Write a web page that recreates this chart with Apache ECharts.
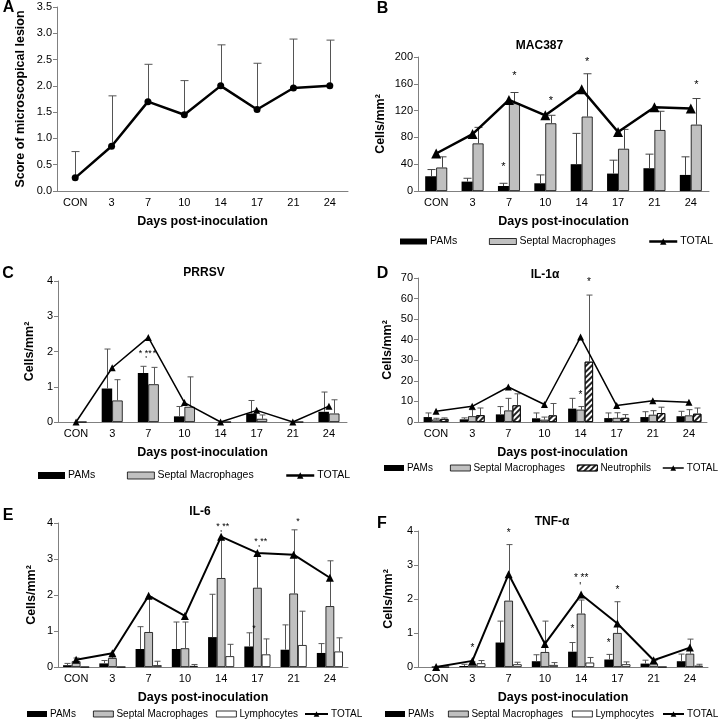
<!DOCTYPE html>
<html>
<head>
<meta charset="utf-8">
<script src="https://cdn.jsdelivr.net/npm/echarts/dist/echarts.min.js"></script>
<style>
  html, body { margin: 0; padding: 0; background: #fff; }
  #chart { width: 719px; height: 723px; }
</style>
</head>
<body>
<div id="chart"></div>
<script>
var FONT = '"Liberation Sans", Arial, sans-serif';
var days = ['CON', '3', '7', '10', '14', '17', '21', '24'];

// A - lesion score (mean, top of error bar)
var lesionScore = [0.25, 0.85, 1.7, 1.45, 2.0, 1.55, 1.96, 2.0];
var lesionTop = [0.75, 1.81, 2.41, 2.1, 2.78, 2.43, 2.89, 2.87];

// B - MAC387
var macPams = [22, 14, 7.5, 11.5, 40, 26, 34, 24];
var macPamsTop = [32, 19, 11.5, 24, 86, 46, 55, 51];
var macSeptal = [35, 71, 131, 101, 111, 63, 91, 99];
var macSeptalTop = [51, 95, 147, 113, 175, 92, 119, 138];
var macTotal = [56, 85, 136, 113, 152, 88, 125, 123];
var macStars = [[2, 36, 0, '*'], [2, 171, 1, '*'], [3, 134, 1, '*'], [4, 192, 1, '*'], [7, 158, 1, '*']];

// C - PRRSV
var prrsvPams = [0, 0.95, 1.39, 0.16, 0, 0.24, 0, 0.29];
var prrsvPamsTop = [0, 2.07, 1.58, 0.44, 0, 0.61, 0, 0.85];
var prrsvSeptal = [0, 0.61, 1.07, 0.43, 0, 0.09, 0, 0.24];
var prrsvSeptalTop = [0, 1.2, 1.55, 1.28, 0, 0.2, 0, 0.63];
var prrsvTotal = [0, 1.54, 2.4, 0.55, 0, 0.33, 0, 0.45];
var prrsvStars = [[2, 1.94, 0.2, '* **'], [2, 1.94, 1.1, '*'], [2, 1.78, 0.3, "'"]];

// D - IL-1 alpha
var il1Pams = [2.4, 1.3, 3.7, 1.8, 6.5, 1.9, 2.4, 2.8];
var il1PamsTop = [4.4, 2.0, 7.5, 4.4, 11.5, 4.4, 5.0, 5.2];
var il1Septal = [1.2, 2.8, 5.6, 1.1, 6.0, 2.0, 3.5, 3.2];
var il1SeptalTop = [1.8, 6.0, 11.5, 2.4, 7.5, 4.5, 5.5, 6.0];
var il1Neutro = [1.5, 3.3, 8.1, 3.2, 29.3, 2.0, 4.3, 4.0];
var il1NeutroTop = [2.0, 6.8, 13.7, 9.0, 61.7, 3.6, 7.2, 6.8];
var il1Total = [5.2, 7.6, 17, 8.5, 41.3, 8.0, 10.3, 9.6];
var il1Stars = [[4, 13, 1, '*'], [4, 68, 2, '*']];

// E - IL-6
var il6Pams = [0.05, 0.1, 0.5, 0.5, 0.83, 0.57, 0.48, 0.39];
var il6PamsTop = [0.1, 0.18, 1.12, 1.25, 2.02, 0.95, 1.17, 0.65];
var il6Septal = [0.16, 0.25, 0.97, 0.52, 2.47, 2.2, 2.04, 1.69];
var il6SeptalTop = [0.25, 0.28, 1.95, 1.25, 3.55, 3.1, 3.81, 2.95];
var il6Lymph = [0, 0, 0.05, 0.03, 0.3, 0.35, 0.61, 0.43];
var il6LymphTop = [0, 0, 0.16, 0.07, 0.63, 0.78, 1.55, 0.81];
var il6Total = [0.2, 0.38, 1.98, 1.42, 3.62, 3.17, 3.12, 2.48];
var il6Stars = [[4, 3.9, 1.2, '* **'], [4, 3.7, 1.0, "'"], [5, 3.49, 1.4, '* **'], [5, 3.29, 1.2, "'"], [6, 4.03, 1.5, '*'], [5, 1.08, 0.6, '*']];

// F - TNF alpha
var tnfPams = [0, 0.03, 0.72, 0.17, 0.45, 0.22, 0.1, 0.17];
var tnfPamsTop = [0, 0.08, 1.35, 0.36, 0.72, 0.37, 0.2, 0.38];
var tnfSeptal = [0, 0.06, 1.95, 0.44, 1.57, 1.0, 0.1, 0.39];
var tnfSeptalTop = [0, 0.15, 3.6, 1.35, 1.97, 1.92, 0.2, 0.82];
var tnfLymph = [0, 0.11, 0.08, 0.06, 0.13, 0.08, 0, 0.04];
var tnfLymphTop = [0, 0.19, 0.14, 0.13, 0.28, 0.15, 0, 0.08];
var tnfTotal = [0, 0.18, 2.73, 0.68, 2.13, 1.28, 0.2, 0.57];
var tnfStars = [[1, 0.54, 1, '*'], [2, 3.93, 1, '*'], [4, 2.6, 1, '* **'], [4, 2.34, 0.9, "'"], [4, 1.1, 0, '*'], [5, 2.26, 1, '*'], [5, 0.71, 0, '*']];

var chart = echarts.init(document.getElementById('chart'));

var hatch = {
  symbol: 'rect', symbolSize: 1, color: '#222',
  dashArrayX: [1, 0], dashArrayY: [1.5, 2], rotation: -Math.PI / 4
};

function catAxis(i) {
  return {
    gridIndex: i, type: 'category', data: days,
    name: 'Days post-inoculation', nameLocation: 'middle', nameGap: 24,
    nameTextStyle: { fontSize: 12.5, fontWeight: 'bold', color: '#000' },
    axisLine: { lineStyle: { color: '#808080', width: 1 } },
    axisTick: { length: 3, lineStyle: { color: '#808080' } },
    axisLabel: { fontSize: 11, color: '#000', margin: 6 },
    splitLine: { show: false }
  };
}

function valAxis(i, max, step, name, gap, fmt) {
  return {
    gridIndex: i, type: 'value', min: 0, max: max, interval: step,
    name: name, nameLocation: 'middle', nameGap: gap,
    nameTextStyle: { fontSize: 12.5, fontWeight: 'bold', color: '#000' },
    axisLine: { show: true, lineStyle: { color: '#808080', width: 1 } },
    axisTick: { show: true, length: 4, lineStyle: { color: '#808080' } },
    axisLabel: { fontSize: 11, color: '#000', margin: 5, formatter: fmt },
    splitLine: { show: false }
  };
}

function bars(grid, name, values, color, bw, extra) {
  var s = {
    type: 'bar', name: name, xAxisIndex: grid, yAxisIndex: grid, data: values,
    barWidth: bw, barGap: '0%', silent: true,
    itemStyle: { color: color, borderColor: '#000', borderWidth: color === '#000' ? 0 : 0.8 }
  };
  if (extra) s.itemStyle.decal = extra;
  return s;
}

function errBars(grid, means, tops, slot, nSlots, bw, cap, color) {
  var pts = [];
  means.forEach(function (m, i) { if (tops[i] > m) pts.push([i, m, tops[i]]); });
  return {
    type: 'custom', xAxisIndex: grid, yAxisIndex: grid, data: pts, silent: true, z: 3,
    renderItem: function (params, api) {
      var lo = api.coord([api.value(0), api.value(1)]);
      var hi = api.coord([api.value(0), api.value(2)]);
      var x = Math.round(lo[0] + (slot - (nSlots - 1) / 2) * bw) + 0.5;
      var st = { stroke: color, lineWidth: 1 };
      return {
        type: 'group', children: [
          { type: 'line', shape: { x1: x, y1: lo[1], x2: x, y2: hi[1] }, style: st },
          { type: 'line', shape: { x1: x - cap / 2, y1: hi[1], x2: x + cap / 2, y2: hi[1] }, style: st }
        ]
      };
    }
  };
}

function stars(grid, list, nSlots, bw, fs) {
  return {
    type: 'custom', xAxisIndex: grid, yAxisIndex: grid, silent: true, z: 6,
    data: list.map(function (s) { return [s[0], s[1]]; }),
    renderItem: function (params, api) {
      var s = list[params.dataIndex];
      var p = api.coord([s[0], s[1]]);
      return {
        type: 'text',
        style: {
          x: p[0] + (s[2] - (nSlots - 1) / 2) * bw, y: p[1], text: s[3],
          align: 'center', verticalAlign: 'middle', fontSize: fs, fontFamily: FONT, fill: '#000'
        }
      };
    }
  };
}

function totalLine(grid, values, w, size) {
  return {
    type: 'line', name: 'TOTAL', xAxisIndex: grid, yAxisIndex: grid, data: values,
    symbol: 'triangle', symbolSize: size, showAllSymbol: true, silent: true, z: 5,
    lineStyle: { color: '#000', width: w }, itemStyle: { color: '#000' }
  };
}

function legendItem(name, x, y, w, h, fs, style, lineW) {
  var item = { name: name, itemStyle: style };
  if (lineW) item.lineStyle = { color: '#000', width: lineW };
  return {
    data: [item], left: x, top: y - 7, padding: 0, itemGap: 0,
    itemWidth: w, itemHeight: h, selectedMode: false,
    icon: lineW ? undefined : 'rect',
    textStyle: { fontSize: fs, color: '#000', fontFamily: FONT, padding: [0, 0, 0, -2] }
  };
}

var blackS = { color: '#000', borderColor: '#000', borderWidth: 0 };
var grayS = { color: '#c0c0c0', borderColor: '#000', borderWidth: 0.8 };
var whiteS = { color: '#fff', borderColor: '#000', borderWidth: 0.8 };
var hatchS = { color: '#fff', borderColor: '#000', borderWidth: 0.8, decal: hatch };
var lineS = { color: '#000' };

var fmt1 = function (v) { return v.toFixed(1); };
var fmt0 = function (v) { return String(v); };

var option = {
  animation: false,
  textStyle: { fontFamily: FONT },
  grid: [
    { left: 57, top: 7, width: 291, height: 184, outerBoundsMode: 'none' },
    { left: 418, top: 57, width: 291, height: 134, outerBoundsMode: 'none' },
    { left: 58, top: 281, width: 289, height: 141, outerBoundsMode: 'none' },
    { left: 418, top: 278, width: 289, height: 144, outerBoundsMode: 'none' },
    { left: 58, top: 523, width: 290, height: 144, outerBoundsMode: 'none' },
    { left: 418, top: 531, width: 290, height: 136, outerBoundsMode: 'none' }
  ],
  xAxis: [catAxis(0), catAxis(1), catAxis(2), catAxis(3), catAxis(4), catAxis(5)],
  yAxis: [
    valAxis(0, 3.5, 0.5, 'Score of microscopical lesion', 30, fmt1),
    valAxis(1, 200, 40, 'Cells/mm²', 31, fmt0),
    valAxis(2, 4, 1, 'Cells/mm²', 22, fmt0),
    valAxis(3, 70, 10, 'Cells/mm²', 24, fmt0),
    valAxis(4, 4, 1, 'Cells/mm²', 20, fmt0),
    valAxis(5, 4, 1, 'Cells/mm²', 23, fmt0)
  ],
  legend: [
    legendItem('PAMs', 400, 243, 27, 6, 10.5, blackS),
    legendItem('Septal Macrophages', 489, 243, 27, 6, 10.5, grayS),
    legendItem('TOTAL', 648, 243, 28, 8, 10.5, lineS, 2.5),
    legendItem('PAMs', 38, 477, 27, 7, 10.5, blackS),
    legendItem('Septal Macrophages', 127, 477, 27, 7, 10.5, grayS),
    legendItem('TOTAL', 285, 477, 28, 8, 10.5, lineS, 2.5),
    legendItem('PAMs', 384, 470, 20, 6, 10, blackS),
    legendItem('Septal Macrophages', 450, 470, 20, 6, 10, grayS),
    legendItem('Neutrophils', 577, 470, 20, 6, 10, hatchS),
    legendItem('TOTAL', 662, 470, 21, 7, 10, lineS, 1.5),
    legendItem('PAMs', 27, 716, 20, 6, 10, blackS),
    legendItem('Septal Macrophages', 93, 716, 20, 6, 10, grayS),
    legendItem('Lymphocytes', 216, 716, 20, 6, 10, whiteS),
    legendItem('TOTAL', 304, 716, 23, 7, 10, lineS, 2),
    legendItem('PAMs', 385, 716, 20, 6, 10, blackS),
    legendItem('Septal Macrophages', 448, 716, 20, 6, 10, grayS),
    legendItem('Lymphocytes', 572, 716, 20, 6, 10, whiteS),
    legendItem('TOTAL', 662, 716, 21, 7, 10, lineS, 2)
  ],
  graphic: [
    { type: 'text', style: { x: 8.5, y: 7.5, text: 'A', font: 'bold 16px ' + FONT, align: 'center', verticalAlign: 'middle', fill: '#000' } },
    { type: 'text', style: { x: 382.5, y: 9, text: 'B', font: 'bold 16px ' + FONT, align: 'center', verticalAlign: 'middle', fill: '#000' } },
    { type: 'text', style: { x: 8, y: 274, text: 'C', font: 'bold 16px ' + FONT, align: 'center', verticalAlign: 'middle', fill: '#000' } },
    { type: 'text', style: { x: 382.5, y: 274, text: 'D', font: 'bold 16px ' + FONT, align: 'center', verticalAlign: 'middle', fill: '#000' } },
    { type: 'text', style: { x: 8, y: 516, text: 'E', font: 'bold 16px ' + FONT, align: 'center', verticalAlign: 'middle', fill: '#000' } },
    { type: 'text', style: { x: 382, y: 524, text: 'F', font: 'bold 16px ' + FONT, align: 'center', verticalAlign: 'middle', fill: '#000' } },
    { type: 'text', style: { x: 539.5, y: 46, text: 'MAC387', font: 'bold 12px ' + FONT, align: 'center', verticalAlign: 'middle', fill: '#000' } },
    { type: 'text', style: { x: 204, y: 273, text: 'PRRSV', font: 'bold 12px ' + FONT, align: 'center', verticalAlign: 'middle', fill: '#000' } },
    { type: 'text', style: { x: 545, y: 275, text: 'IL-1α', font: 'bold 12px ' + FONT, align: 'center', verticalAlign: 'middle', fill: '#000' } },
    { type: 'text', style: { x: 200, y: 512, text: 'IL-6', font: 'bold 12px ' + FONT, align: 'center', verticalAlign: 'middle', fill: '#000' } },
    { type: 'text', style: { x: 552, y: 522, text: 'TNF-α', font: 'bold 12px ' + FONT, align: 'center', verticalAlign: 'middle', fill: '#000' } }
  ],
  series: [
    // A
    errBars(0, lesionScore, lesionTop, 0, 1, 0, 8, '#555'),
    {
      type: 'line', name: 'Score', xAxisIndex: 0, yAxisIndex: 0, data: lesionScore,
      symbol: 'circle', symbolSize: 7, silent: true, z: 5,
      lineStyle: { color: '#000', width: 2.5 }, itemStyle: { color: '#000' }
    },
    // B
    bars(1, 'PAMs', macPams, '#000', 11),
    bars(1, 'Septal Macrophages', macSeptal, '#c0c0c0', 11),
    errBars(1, macPams, macPamsTop, 0, 2, 11, 8, '#444'),
    errBars(1, macSeptal, macSeptalTop, 1, 2, 11, 8, '#444'),
    totalLine(1, macTotal, 2.5, 10),
    stars(1, macStars, 2, 11, 11),
    // C
    bars(2, 'PAMs', prrsvPams, '#000', 10.5),
    bars(2, 'Septal Macrophages', prrsvSeptal, '#c0c0c0', 10.5),
    errBars(2, prrsvPams, prrsvPamsTop, 0, 2, 10.5, 6, '#555'),
    errBars(2, prrsvSeptal, prrsvSeptalTop, 1, 2, 10.5, 6, '#555'),
    totalLine(2, prrsvTotal, 1.5, 7),
    stars(2, prrsvStars, 2, 10.5, 9),
    // D
    bars(3, 'PAMs', il1Pams, '#000', 8.3),
    bars(3, 'Septal Macrophages', il1Septal, '#c0c0c0', 8.3),
    bars(3, 'Neutrophils', il1Neutro, '#fff', 8.3, hatch),
    errBars(3, il1Pams, il1PamsTop, 0, 3, 8.3, 6, '#555'),
    errBars(3, il1Septal, il1SeptalTop, 1, 3, 8.3, 6, '#555'),
    errBars(3, il1Neutro, il1NeutroTop, 2, 3, 8.3, 6, '#555'),
    totalLine(3, il1Total, 1.5, 7),
    stars(3, il1Stars, 3, 8.3, 10),
    // E
    bars(4, 'PAMs', il6Pams, '#000', 8.7),
    bars(4, 'Septal Macrophages', il6Septal, '#c0c0c0', 8.7),
    bars(4, 'Lymphocytes', il6Lymph, '#fff', 8.7),
    errBars(4, il6Pams, il6PamsTop, 0, 3, 8.7, 6, '#555'),
    errBars(4, il6Septal, il6SeptalTop, 1, 3, 8.7, 6, '#555'),
    errBars(4, il6Lymph, il6LymphTop, 2, 3, 8.7, 6, '#555'),
    totalLine(4, il6Total, 2, 8),
    stars(4, il6Stars, 3, 8.7, 9),
    // F
    bars(5, 'PAMs', tnfPams, '#000', 8.7),
    bars(5, 'Septal Macrophages', tnfSeptal, '#c0c0c0', 8.7),
    bars(5, 'Lymphocytes', tnfLymph, '#fff', 8.7),
    errBars(5, tnfPams, tnfPamsTop, 0, 3, 8.7, 6, '#555'),
    errBars(5, tnfSeptal, tnfSeptalTop, 1, 3, 8.7, 6, '#555'),
    errBars(5, tnfLymph, tnfLymphTop, 2, 3, 8.7, 6, '#555'),
    totalLine(5, tnfTotal, 2, 8),
    stars(5, tnfStars, 3, 8.7, 10)
  ]
};

chart.setOption(option);
</script>
</body>
</html>
